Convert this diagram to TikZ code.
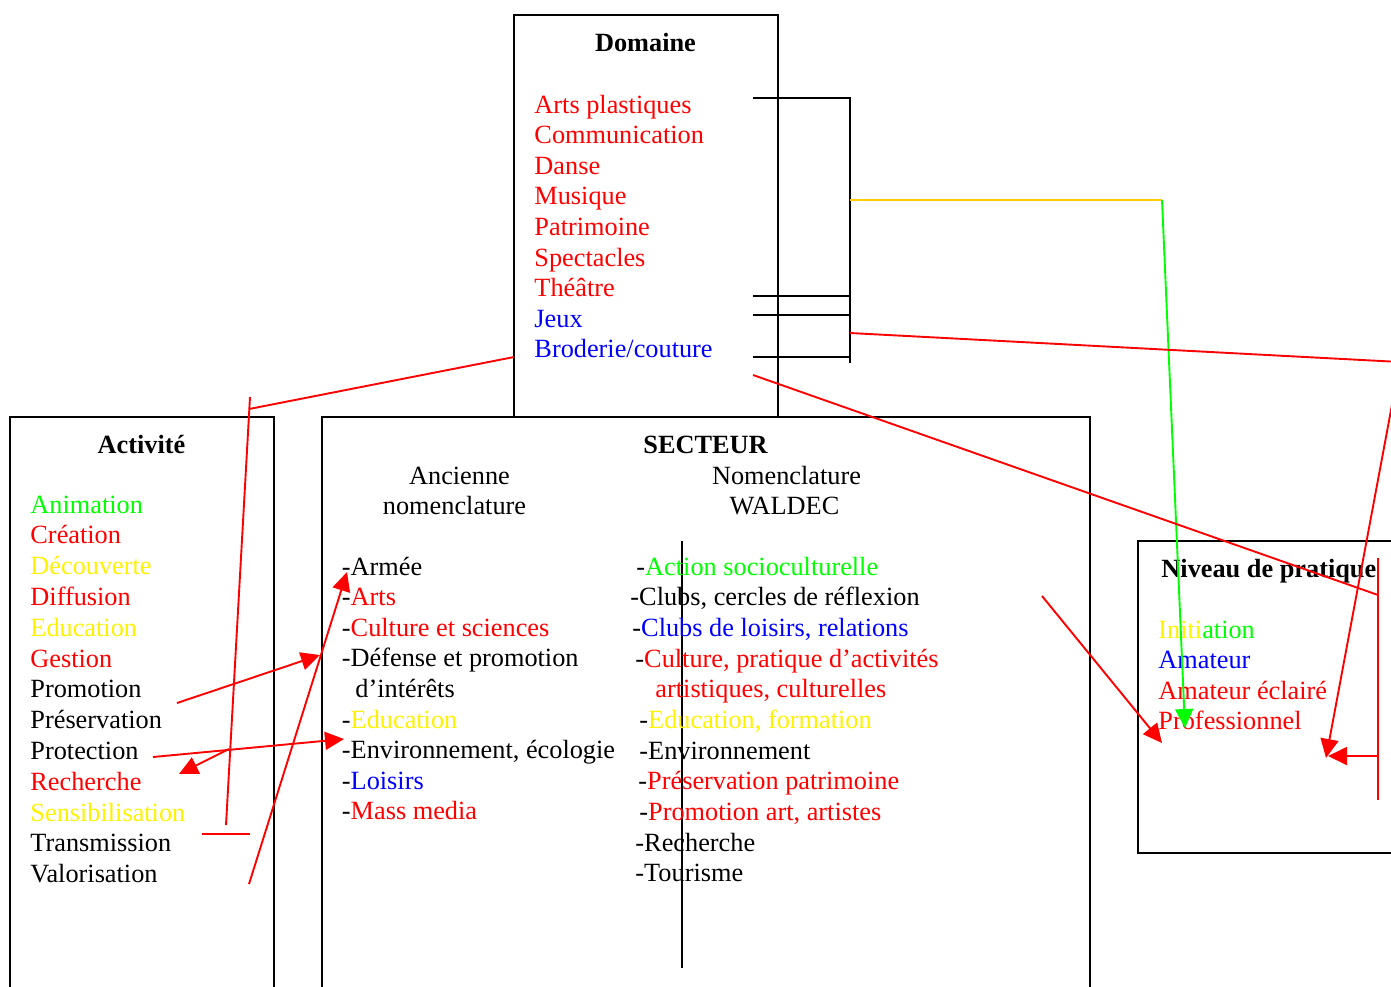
\documentclass[tikz,border=0pt]{standalone}
\usepackage{fontspec}
\setmainfont{Liberation Serif}
\usetikzlibrary{arrows.meta}
\definecolor{jauneligne}{RGB}{255,204,0}

\begin{document}
\begin{tikzpicture}[x=1pt, y=-1pt, line width=1.9pt,
		every node/.style={inner sep=0pt, font=\fontsize{26.3}{30.6}\selectfont},
		item/.style={anchor=base west},
		titre/.style={anchor=base, font=\fontsize{26.3}{30.6}\selectfont\bfseries},
		fleche/.style={red, -{Triangle[length=19pt, width=18pt]}}]
		\useasboundingbox (0,0) rectangle (1391,986);
		\clip (0,0) rectangle (1391,986);
		% cadres
		\draw (514,416) -- (514,15) -- (778,15) -- (778,416);
		\draw (10,1000) -- (10,417) -- (274,417) -- (274,1000);
		\draw (322,1000) -- (322,417) -- (1090,417) -- (1090,1000);
		\draw (1400,541) -- (1138,541) -- (1138,853) -- (1400,853);
		\draw (682,541) -- (682,968);
		\begin{scope}[shift={(-1.5,1)}]
		% Domaine
		\node[titre] (domaine) at (647,50) {Domaine};
		\node[item, red] (arts) at (535,112) {Arts plastiques};
		\node[item, red] (communication) at (535,142.6) {Communication};
		\node[item, red] (danse) at (535,173.2) {Danse};
		\node[item, red] (musique) at (535,203.8) {Musique};
		\node[item, red] (patrimoine) at (535,234.4) {Patrimoine};
		\node[item, red] (spectacles) at (535,265) {Spectacles};
		\node[item, red] (theatre) at (535,295.6) {Théâtre};
		\node[item, blue] (jeux) at (535,326.2) {Jeux};
		\node[item, blue] (broderie) at (535,356.8) {Broderie/couture};
		% Activite
		\node[titre] (activite) at (143,452) {Activité};
		\node[item, green] (animation) at (31,512) {Animation};
		\node[item, red] (creation) at (31,542.8) {Création};
		\node[item, yellow] (decouverte) at (31,573.6) {Découverte};
		\node[item, red] (diffusion) at (31,604.4) {Diffusion};
		\node[item, yellow] (education) at (31,635.2) {Education};
		\node[item, red] (gestion) at (31,666) {Gestion};
		\node[item] (promotion) at (31,696.8) {Promotion};
		\node[item] (preservation) at (31,727.6) {Préservation};
		\node[item] (protection) at (31,758.4) {Protection};
		\node[item, red] (recherche) at (31,789.2) {Recherche};
		\node[item, yellow] (sensibilisation) at (31,820) {Sensibilisation};
		\node[item] (transmission) at (31,850.8) {Transmission};
		\node[item] (valorisation) at (31,881.6) {Valorisation};
		% Secteur
		\node[titre] (secteur) at (707,452) {SECTEUR};
		\node[anchor=base] (ancienne) at (461,483) {Ancienne};
		\node[anchor=base] (nomencl) at (456,513) {nomenclature};
		\node[anchor=base] (nomenclature) at (788,483) {Nomenclature};
		\node[anchor=base] (waldec) at (786,513) {WALDEC};
		\node[item] (armee) at (342.5,574) {-Armée};
		\node[item] (sarts) at (342.5,604.6) {-\textcolor{red}{Arts}};
		\node[item] (culture) at (342.5,635.2) {-\textcolor{red}{Culture et sciences}};
		\node[item] (defense) at (342.5,665.8) {-Défense et promotion};
		\node[item] (interets) at (356,696.4) {d’intérêts};
		\node[item] (seducation) at (342.5,727) {-\textcolor{yellow}{Education}};
		\node[item] (environnement) at (342.5,757.6) {-Environnement, écologie};
		\node[item] (loisirs) at (342.5,788.2) {-\textcolor{blue}{Loisirs}};
		\node[item] (mass) at (342.5,818.8) {-\textcolor{red}{Mass media}};
		\node[item] (action) at (637,574) {-\textcolor{green}{Action socioculturelle}};
		\node[item] (cercles) at (631,604.7) {-Clubs, cercles de réflexion};
		\node[item] (clubs) at (633,635.3) {-\textcolor{blue}{Clubs de loisirs, relations}};
		\node[item] (pratique) at (636,666) {-\textcolor{red}{Culture, pratique d’activités}};
		\node[item, red] (artistiques) at (656,696.7) {artistiques, culturelles};
		\node[item] (formation) at (640,727.3) {-\textcolor{yellow}{Education, formation}};
		\node[item] (wenvironnement) at (640,758) {-Environnement};
		\node[item] (wpreservation) at (639,788.7) {-\textcolor{red}{Préservation patrimoine}};
		\node[item] (wpromotion) at (640,819.3) {-\textcolor{red}{Promotion art, artistes}};
		\node[item] (wrecherche) at (636,850) {-Recherche};
		\node[item] (tourisme) at (636,880.7) {-Tourisme};
		% Niveau de pratique
		\node[titre, anchor=base west] (niveau) at (1162,576) {Niveau de pratique};
		\node[item] (initiation) at (1159,637) {\textcolor{yellow}{Initi}\textcolor{green}{ation}};
		\node[item, blue] (amateur) at (1159,667.5) {Amateur};
		\node[item, red] (eclaire) at (1159,698) {Amateur éclairé};
		\node[item, red] (professionnel) at (1159,728.5) {Professionnel};
		\end{scope}
		% points des traits
		\coordinate (cA) at (753,98);
		\coordinate (cB) at (753,296);
		\coordinate (cC) at (753,315);
		\coordinate (cD) at (753,357);
		\coordinate (kA) at (850,98);
		\coordinate (kB) at (850,296);
		\coordinate (kC) at (850,315);
		\coordinate (kD) at (850,357);
		\coordinate (kE) at (850,363);
		\coordinate (jaune) at (850,200);
		\coordinate (coude) at (1162,200);
		\coordinate (vert) at (1185,728);
		\coordinate (rA) at (850,333);
		\coordinate (rB) at (1400,362);
		\coordinate (rC) at (1326,758);
		\coordinate (brod) at (753,375);
		\coordinate (barreH) at (1378,558);
		\coordinate (barreB) at (1378,800);
		\coordinate (barreM) at (1378,595);
		\coordinate (barreF) at (1378,756);
		\coordinate (barreP) at (1328,756);
		\coordinate (sA) at (1042,596);
		\coordinate (sB) at (1162,743);
		\coordinate (dg) at (514,357);
		\coordinate (jonction) at (249,409);
		\coordinate (vH) at (250,397);
		\coordinate (vB) at (226,825);
		\coordinate (hG) at (202,834);
		\coordinate (hD) at (250,834);
		\coordinate (pA) at (177,703);
		\coordinate (pB) at (320,655);
		\coordinate (qA) at (153,757);
		\coordinate (qB) at (344,739);
		\coordinate (xA) at (229,749);
		\coordinate (xB) at (179,774);
		\coordinate (vA) at (249,884);
		\coordinate (vP) at (347,572);
		% traits
		\draw (cA) -- (kA) -- (kE);
		\draw (cB) -- (kB);
		\draw (cC) -- (kC);
		\draw (cD) -- (kD);
		\draw[jauneligne] (jaune) -- (coude);
		\draw[green, -{Triangle[length=19pt, width=18pt]}] (coude) -- (vert);
		\draw[fleche] (rA) -- (rB) -- (rC);
		\draw[red] (brod) -- (barreM);
		\draw[red] (barreH) -- (barreB);
		\draw[fleche] (barreF) -- (barreP);
		\draw[fleche] (sA) -- (sB);
		\draw[red] (dg) -- (jonction);
		\draw[red] (vH) -- (vB);
		\draw[red] (hG) -- (hD);
		\draw[fleche] (pA) -- (pB);
		\draw[fleche] (qA) -- (qB);
		\draw[fleche] (xA) -- (xB);
		\draw[fleche] (vA) -- (vP);
	\end{tikzpicture}
\end{document}
